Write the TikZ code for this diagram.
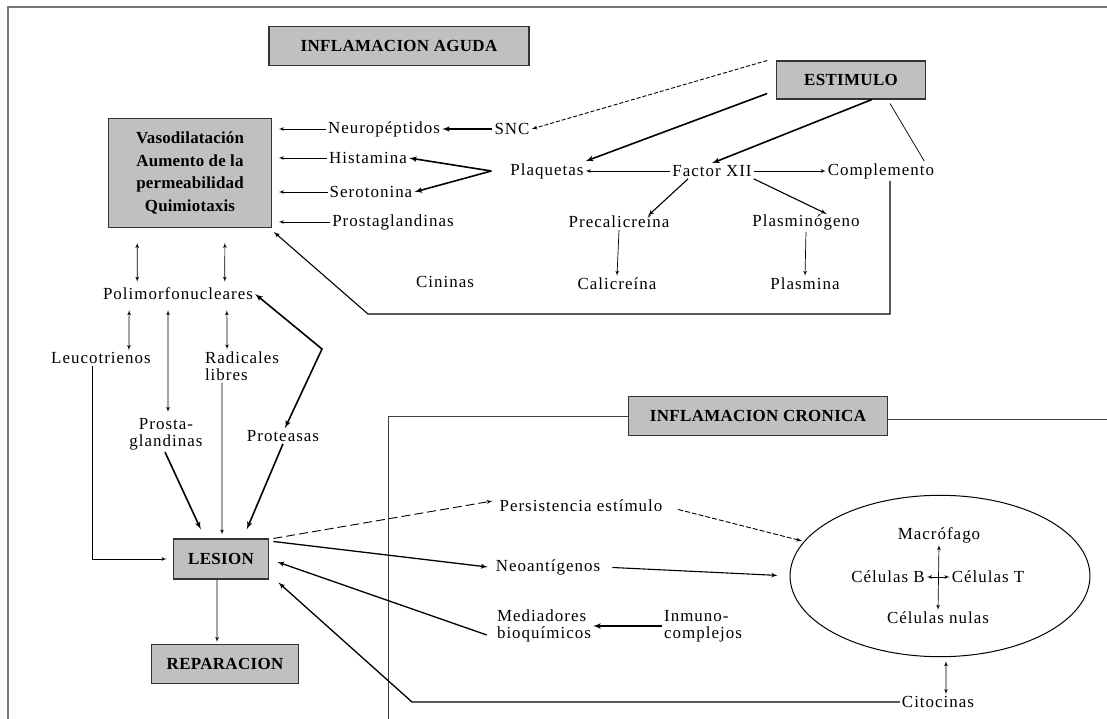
\documentclass[tikz,border=0pt]{standalone}
\usepackage{fontspec}
\setmainfont{Liberation Serif}[LetterSpace=6]
\usetikzlibrary{arrows,shapes.geometric}
\definecolor{boxgray}{RGB}{192,192,192}
\definecolor{framegray}{RGB}{120,120,120}

\begin{document}
\begin{tikzpicture}[x=1bp, y=-1bp, >=latex',
        txt/.style={inner sep=2bp, align=center, font=\fontsize{17}{17}\selectfont},
        txtl/.style={txt, align=left},
        hdr/.style={rectangle, draw=black!80, line width=1.2bp, fill=boxgray, inner sep=0pt,
            font=\fontsize{17}{17}\selectfont\bfseries\addfontfeature{LetterSpace=2}},
        arr/.style={draw, line width=0.7bp, ->},
        fat/.style={draw, line width=1.6bp, ->},
        dsh/.style={draw, line width=0.9bp, dash pattern=on 7bp off 3bp, ->},
        twoway/.style={draw, line width=0.7bp, <->},
        frame/.style={draw=framegray, line width=1.2bp}
    ]
        \useasboundingbox (0,0) rectangle (1107,719);
        % Outer frame
        \coordinate (frtl) at (8,7);
        \coordinate (frbl) at (8,719);
        \coordinate (frtr) at (1107,7);
        \draw[frame] (frbl) -- (frtl) -- (frtr);
        % Acute inflammation
        \node[hdr, minimum width=261, minimum height=39] (aguda) at (399,46) {INFLAMACION AGUDA};
        \node[hdr, minimum width=149, minimum height=38] (estimulo) at (851,80) {ESTIMULO};
        \node[hdr, minimum width=163, minimum height=109, align=center,
            font=\fontsize{17}{23}\selectfont\bfseries\addfontfeature{LetterSpace=1}] (vaso) at (190,173)
            {Vasodilatación\\Aumento de la\\permeabilidad\\Quimiotaxis};
        \node[txt] (neuro) at (384,129) {Neuropéptidos};
        \node[txt] (snc) at (512,129) {SNC};
        \node[txt] (hista) at (368,158) {Histamina};
        \node[txt] (sero) at (371,192) {Serotonina};
        \node[txt] (prosta) at (393,222) {Prostaglandinas};
        \node[txt] (cininas) at (445,282) {Cininas};
        \node[txt] (plaq) at (547,171) {Plaquetas};
        \node[txt] (factor) at (712,171) {Factor XII};
        \node[txt] (compl) at (881,171) {Complemento};
        \node[txt] (precal) at (619,222) {Precalicreína};
        \node[txt] (plasmg) at (806,222) {Plasminógeno};
        \node[txt] (calic) at (617,284) {Calicreína};
        \node[txt] (plasmina) at (805,284) {Plasmina};
        % Cells and products
        \node[txt] (poli) at (178,294) {Polimorfonucleares};
        \node[txt] (leuco) at (101,358) {Leucotrienos};
        \node[txtl] (radic) at (242,366) {Radicales\\libres};
        \node[txt] (prostb) at (166,434) {Prosta-\\glandinas};
        \node[txt] (protea) at (283,436) {Proteasas};
        \node[hdr, minimum width=96, minimum height=40] (lesion) at (221,559) {LESION};
        \node[hdr, minimum width=147, minimum height=39] (repar) at (225,664) {REPARACION};
        % Chronic inflammation
        \node[hdr, minimum width=260, minimum height=39] (cronica) at (758,416) {INFLAMACION CRONICA};
        \coordinate (chrbl) at (388,719);
        \coordinate (chrr) at (1107,419);
        \draw[line width=0.9bp, black!75] (chrbl) |- (cronica.west);
        \draw[line width=0.9bp, black!75] (cronica.east |- chrr) -- (chrr);
        \node[txt] (persist) at (581,506) {Persistencia estímulo};
        \node[txt] (neoant) at (548,567) {Neoantígenos};
        \node[txtl] (mediad) at (544,626) {Mediadores\\bioquímicos};
        \node[txtl] (inmuno) at (703,626) {Inmuno-\\complejos};
        \node[ellipse, draw, line width=1bp, minimum width=301, minimum height=162] (cel) at (940,576) {};
        \node[txt] (macro) at (939,535) {Macrófago};
        \node[txt] (celb) at (888,577) {Células B};
        \node[txt] (celt) at (988,577) {Células T};
        \node[txt] (celn) at (938,618) {Células nulas};
        \node[txt] (citoc) at (938,702) {Citocinas};
        % Stimulus connections
        \path[dsh, dash pattern=on 4bp off 2bp] ([xshift=-9]estimulo.north west) -- (snc.east);
        \path[fat] ([shift={(-9,-6)}]estimulo.south west) -- (plaq.north east);
        \path[fat] ([xshift=21]estimulo.south) -- (factor.north);
        \draw[line width=0.7bp] ([shift={(39,4)}]estimulo.south) -- ([xshift=-12]compl.north east);
        \path[fat] (snc.west) -- (neuro.east);
        \coordinate (plaqv) at ([xshift=-17]plaq.west);
        \path[fat] (plaqv) -- (hista.east);
        \path[fat] (plaqv) -- (sero.east);
        \path[arr] (factor.west) -- (plaq.east);
        \path[arr] (factor.east) -- (compl.west);
        \path[fat, line width=1.1bp] ([xshift=-24]factor.south) -- ([xshift=29,yshift=-2]precal.north);
        \path[fat, line width=1.1bp] (factor.south east) -- ([xshift=21,yshift=-2]plasmg.north);
        \path[arr] (precal.south) -- (calic.north);
        \path[arr] (plasmg.south) -- (plasmina.north);
        \coordinate (kneea) at (368,314);
        \path[fat, line width=1.1bp] ([xshift=9]compl.south) |- (kneea) -- ([shift={(2,4)}]vaso.south east);
        % Mediators to vasodilatation
        \path[arr, shorten >=7bp] (neuro.west) -- (neuro.west -| vaso.east);
        \path[arr, shorten >=7bp] (hista.west) -- (hista.west -| vaso.east);
        \path[arr, shorten >=7bp] (sero.west) -- (sero.west -| vaso.east);
        \path[arr, shorten >=7bp] (prosta.west) -- (prosta.west -| vaso.east);
        % Polymorphonuclears
        \path[twoway, shorten <=15bp, shorten >=4bp] ([xshift=-53]vaso.south) -- ([xshift=-41]poli.north);
        \path[twoway, shorten <=15bp, shorten >=4bp] ([xshift=35]vaso.south) -- ([xshift=47]poli.north);
        \path[twoway, shorten <=8bp] ([xshift=-49]poli.south) -- ([xshift=28]leuco.north);
        \path[twoway, shorten <=8bp, shorten >=4bp] ([xshift=-10]poli.south) -- ([xshift=2]prostb.north);
        \path[twoway, shorten <=8bp] ([xshift=49]poli.south) -- ([xshift=-15]radic.north);
        \coordinate (protv) at (322,349);
        \path[draw, line width=1.6bp, <->] (poli.east) -- (protv) -- ([xshift=2]protea.north);
        % Towards the lesion
        \path[arr, shorten >=6bp] ([xshift=-9]leuco.south) |- (lesion.west);
        \path[fat, shorten >=10bp] ([xshift=-1]prostb.south) -- ([xshift=-16]lesion.north);
        \path[arr, shorten >=4bp] ([xshift=-20]radic.south) -- ([xshift=1]lesion.north);
        \path[fat, shorten >=10bp] (protea.south) -- ([xshift=22]lesion.north);
        \path[arr, shorten >=2bp] ([xshift=-4]lesion.south) -- ([xshift=-8]repar.north);
        \path[dsh, dash pattern=on 9bp off 4bp] ([xshift=4]lesion.north east) -- ([shift={(-5,-5)}]persist.west);
        \path[fat, line width=1.3bp] ([shift={(4,3)}]lesion.north east) -- ([xshift=-6]neoant.west);
        \path[fat, line width=1.3bp] ([shift={(-8,9)}]mediad.west) -- ([shift={(8,3)}]lesion.east);
        \coordinate (kneeb) at (412,702);
        \path[fat, line width=1.3bp] (citoc.west) -- (kneeb) -- ([shift={(9,3)}]lesion.south east);
        \path[fat] (inmuno.west) -- (mediad.east);
        % Chronic cell population
        \path[dsh, dash pattern=on 5bp off 2bp, shorten <=14bp, shorten >=2bp] (persist.east) -- (cel);
        \path[fat, line width=1.1bp, shorten <=10bp, shorten >=12bp] (neoant.east) -- (cel.west);
        \path[twoway, shorten <=4bp] ([xshift=6]cel.south) -- ([xshift=8]citoc.north);
        \path[twoway] (macro.south) -- (celn.north);
        \path[twoway] (celb.east) -- (celt.west);
    \end{tikzpicture}
\end{document}
